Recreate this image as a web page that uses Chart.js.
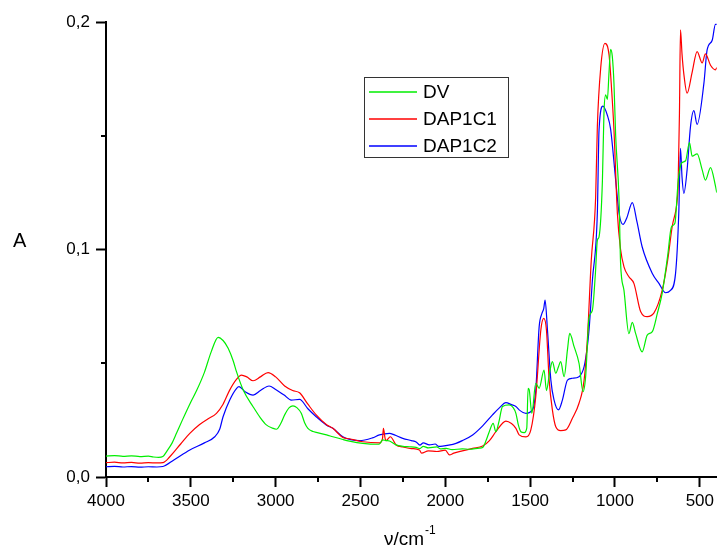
<!DOCTYPE html>
<html>
<head>
<meta charset="utf-8">
<script src="https://cdn.jsdelivr.net/npm/chart.js@4.4.0/dist/chart.umd.min.js"></script>
<style>
    html, body { margin: 0; padding: 0; background: #fff; }
    #wrap { width: 718px; height: 550px; position: relative; }
</style>
</head>
<body>
<div id="wrap"><canvas id="ir-chart"></canvas></div>
<script>
const seriesNames = ['DV', 'DAP1C1', 'DAP1C2'];
const seriesColors = ['#00ee00', '#ff0000', '#0000ff'];

// DV
const dvX = [4000, 3950, 3900, 3850, 3800, 3750, 3720, 3690, 3665, 3640, 3610, 3584, 3550, 3500, 3466, 3420, 3380, 3339, 3310, 3280,
    3250, 3231, 3190, 3133, 3090, 3055, 3020, 2996, 2970, 2947, 2920, 2898, 2875, 2849, 2830, 2810, 2780, 2761, 2700, 2663,
    2604, 2565, 2486, 2400, 2388, 2369, 2350, 2329, 2290, 2250, 2210, 2172, 2150, 2130, 2100, 2050, 2030, 1996, 1960, 1900,
    1859, 1800, 1780, 1760, 1741, 1718, 1702, 1685, 1663, 1624, 1600, 1584, 1570, 1555, 1535, 1520, 1512, 1506, 1490, 1467,
    1447, 1418, 1404, 1385, 1369, 1349, 1333, 1320, 1300, 1280, 1267, 1241, 1212, 1188, 1173, 1153, 1133, 1115, 1104, 1094,
    1074, 1065, 1055, 1045, 1035, 1026, 1016, 1006, 996, 976, 967, 947, 918, 898, 878, 840, 810, 780, 750, 722,
    690, 667, 647, 627, 608, 584, 561, 545, 516, 486, 467, 437, 408, 400];
const dvY = [0.0092, 0.0094, 0.0091, 0.0093, 0.0090, 0.0092, 0.0088, 0.0086, 0.0090, 0.0115, 0.0150, 0.0193, 0.0250, 0.0330, 0.0380, 0.0460, 0.0550, 0.0614, 0.0600, 0.0566,
    0.0510, 0.0463, 0.0380, 0.0309, 0.0260, 0.0229, 0.0215, 0.0210, 0.0235, 0.0273, 0.0305, 0.0313, 0.0305, 0.0280, 0.0240, 0.0214, 0.0200, 0.0196, 0.0185, 0.0177,
    0.0165, 0.0158, 0.0148, 0.0144, 0.0145, 0.0163, 0.0160, 0.0158, 0.0141, 0.0135, 0.0133, 0.0130, 0.0125, 0.0135, 0.0128, 0.0132, 0.0124, 0.0126, 0.0120, 0.0124,
    0.0122, 0.0127, 0.0130, 0.0160, 0.0199, 0.0236, 0.0199, 0.0240, 0.0310, 0.0317, 0.0305, 0.0280, 0.0230, 0.0199, 0.0195, 0.0215, 0.0390, 0.0385, 0.0280, 0.0412,
    0.0390, 0.0470, 0.0380, 0.0460, 0.0507, 0.0456, 0.0485, 0.0507, 0.0441, 0.0560, 0.0631, 0.0573, 0.0500, 0.0375, 0.0441, 0.0700, 0.0734, 0.0900, 0.1040, 0.1056,
    0.1305, 0.1600, 0.1680, 0.1660, 0.1780, 0.1880, 0.1850, 0.1730, 0.1500, 0.1220, 0.0940, 0.0820, 0.0630, 0.0680, 0.0630, 0.0550, 0.0624, 0.0639, 0.0720, 0.0807,
    0.0970, 0.1100, 0.1115, 0.1305, 0.1380, 0.1390, 0.1470, 0.1410, 0.1420, 0.1350, 0.1305, 0.1360, 0.1280, 0.1250];

// DAP1C1
const c1X = [4000, 3950, 3900, 3850, 3800, 3750, 3700, 3665, 3624, 3560, 3506, 3450, 3400, 3349, 3310, 3271, 3230, 3202, 3170, 3133,
    3090, 3045, 3000, 2947, 2900, 2859, 2810, 2761, 2700, 2663, 2604, 2565, 2486, 2388, 2370, 2365, 2355, 2349, 2324, 2290,
    2250, 2200, 2153, 2140, 2100, 2050, 2000, 1976, 1950, 1900, 1839, 1780, 1740, 1702, 1643, 1610, 1584, 1565, 1525, 1496,
    1467, 1437, 1420, 1404, 1388, 1369, 1349, 1320, 1290, 1251, 1212, 1182, 1163, 1140, 1114, 1104, 1084, 1059, 1035, 1016,
    1006, 986, 967, 947, 918, 888, 849, 810, 771, 722, 690, 663, 633, 628, 620, 614, 605, 594, 575, 545,
    516, 486, 467, 437, 408, 400];
const c1Y = [0.0063, 0.0065, 0.0062, 0.0064, 0.0061, 0.0063, 0.0062, 0.0063, 0.0089, 0.0145, 0.0192, 0.0230, 0.0255, 0.0280, 0.0320, 0.0382, 0.0430, 0.0448, 0.0440, 0.0423,
    0.0440, 0.0459, 0.0440, 0.0400, 0.0380, 0.0370, 0.0320, 0.0273, 0.0230, 0.0214, 0.0174, 0.0168, 0.0155, 0.0150, 0.0170, 0.0214, 0.0170, 0.0160, 0.0177, 0.0141,
    0.0132, 0.0125, 0.0119, 0.0105, 0.0115, 0.0112, 0.0118, 0.0097, 0.0105, 0.0115, 0.0126, 0.0136, 0.0160, 0.0199, 0.0246, 0.0235, 0.0214, 0.0185, 0.0176, 0.0207,
    0.0353, 0.0646, 0.0697, 0.0646, 0.0426, 0.0295, 0.0221, 0.0204, 0.0207, 0.0258, 0.0324, 0.0426, 0.0602, 0.0950, 0.1230, 0.1540, 0.1800, 0.1906, 0.1855, 0.1657,
    0.1525, 0.1160, 0.1000, 0.0924, 0.0880, 0.0850, 0.0727, 0.0705, 0.0720, 0.0820, 0.0950, 0.1100, 0.1220, 0.1280, 0.1600, 0.1965, 0.1860, 0.1770, 0.1687, 0.1780,
    0.1870, 0.1820, 0.1860, 0.1810, 0.1790, 0.1800];

// DAP1C2
const c2X = [4000, 3950, 3900, 3850, 3800, 3750, 3700, 3665, 3600, 3506, 3420, 3359, 3330, 3310, 3270, 3230, 3216, 3180, 3133, 3090,
    3039, 3000, 2950, 2908, 2859, 2810, 2761, 2700, 2663, 2604, 2506, 2430, 2388, 2329, 2300, 2251, 2200, 2172, 2150, 2130,
    2094, 2060, 2040, 2016, 1980, 1937, 1900, 1839, 1780, 1722, 1680, 1643, 1610, 1584, 1565, 1525, 1486, 1467, 1447, 1430,
    1420, 1412, 1398, 1378, 1359, 1333, 1310, 1280, 1251, 1212, 1182, 1163, 1153, 1133, 1104, 1094, 1071, 1045, 1026, 996,
    976, 953, 930, 898, 870, 840, 780, 740, 702, 673, 643, 624, 614, 605, 594, 575, 555, 535, 516, 476,
    457, 427, 408, 400];
const c2Y = [0.0045, 0.0047, 0.0044, 0.0046, 0.0043, 0.0045, 0.0044, 0.0046, 0.0075, 0.0119, 0.0150, 0.0177, 0.0210, 0.0265, 0.0340, 0.0390, 0.0397, 0.0375, 0.0360, 0.0380,
    0.0400, 0.0385, 0.0360, 0.0338, 0.0341, 0.0300, 0.0265, 0.0228, 0.0214, 0.0177, 0.0160, 0.0172, 0.0185, 0.0192, 0.0185, 0.0170, 0.0160, 0.0154, 0.0140, 0.0150,
    0.0141, 0.0145, 0.0135, 0.0136, 0.0140, 0.0148, 0.0160, 0.0185, 0.0225, 0.0273, 0.0305, 0.0327, 0.0318, 0.0310, 0.0295, 0.0280, 0.0295, 0.0380, 0.0660, 0.0720,
    0.0740, 0.0778, 0.0646, 0.0426, 0.0338, 0.0295, 0.0338, 0.0426, 0.0434, 0.0441, 0.0485, 0.0573, 0.0646, 0.0866, 0.1160, 0.1525, 0.1630, 0.1590, 0.1530, 0.1305,
    0.1160, 0.1110, 0.1140, 0.1206, 0.1120, 0.1012, 0.0895, 0.0850, 0.0810, 0.0820, 0.0895, 0.1160, 0.1445, 0.1320, 0.1247, 0.1350, 0.1540, 0.1610, 0.1550, 0.1730,
    0.1877, 0.1920, 0.1990, 0.1990];

const xTickValues = [4000, 3500, 3000, 2500, 2000, 1500, 1000, 500];
const yTickValues = [0, 0.1, 0.2];
const yTickLabels = ['0,0', '0,1', '0,2'];
const xMinorTicks = [3750, 3250, 2750, 2250, 1750, 1250, 750];
const yMinorTicks = [0.05, 0.15];

Chart.defaults.font.family = "'Liberation Sans', Arial, sans-serif";
Chart.defaults.color = '#000';

function toPoints(xs, ys) {
    return xs.map((x, i) => ({x: x, y: ys[i]}));
}

// short outward ticks between the labelled ones
const minorTicks = {
    id: 'minorTicks',
    afterDraw(chart) {
        const ctx = chart.ctx;
        const xs = chart.scales.x, ys = chart.scales.y;
        const area = chart.chartArea;
        ctx.save();
        ctx.strokeStyle = '#000';
        ctx.lineWidth = 2;
        ctx.beginPath();
        xMinorTicks.forEach(v => {
            const px = Math.round(xs.getPixelForValue(v));
            ctx.moveTo(px, area.bottom);
            ctx.lineTo(px, area.bottom + 5);
        });
        yMinorTicks.forEach(v => {
            const py = Math.round(ys.getPixelForValue(v));
            ctx.moveTo(area.left - 5, py);
            ctx.lineTo(area.left, py);
        });
        ctx.stroke();
        ctx.restore();
    }
};

// upright "A" and nu/cm^-1 with a raised exponent
const axisTitles = {
    id: 'axisTitles',
    afterDraw(chart) {
        const ctx = chart.ctx;
        ctx.save();
        ctx.fillStyle = '#000';
        ctx.textBaseline = 'alphabetic';
        ctx.font = "20px 'Liberation Sans', Arial, sans-serif";
        ctx.fillText('A', 13, 247);
        ctx.font = "19px 'Liberation Sans', Arial, sans-serif";
        ctx.fillText('ν/cm', 384, 545);
        const w = ctx.measureText('ν/cm').width;
        ctx.font = "12px 'Liberation Sans', Arial, sans-serif";
        ctx.fillText('-1', 384 + w + 1, 534);
        ctx.restore();
    }
};

// boxed legend in the plot, as in the original
const boxLegend = {
    id: 'boxLegend',
    afterDraw(chart) {
        const ctx = chart.ctx;
        ctx.save();
        ctx.strokeStyle = '#333';
        ctx.lineWidth = 1;
        ctx.strokeRect(364.5, 77.5, 144, 80);
        ctx.font = "19px 'Liberation Sans', Arial, sans-serif";
        ctx.textBaseline = 'middle';
        ctx.fillStyle = '#000';
        chart.data.datasets.forEach((ds, i) => {
            const y = 92 + i * 27;
            ctx.strokeStyle = ds.borderColor;
            ctx.lineWidth = 1.3;
            ctx.beginPath();
            ctx.moveTo(369, y);
            ctx.lineTo(417, y);
            ctx.stroke();
            ctx.fillText(ds.label, 423, y + 1);
        });
        ctx.restore();
    }
};

const ctx = document.getElementById('ir-chart');
const allX = [dvX, c1X, c2X];
const allY = [dvY, c1Y, c2Y];

const tickGrid = {
    display: true,
    drawOnChartArea: false,
    drawTicks: true,
    tickLength: 10,
    tickWidth: 2,
    tickColor: '#000'
};

const chart = new Chart(ctx, {
    type: 'line',
    data: {
        datasets: seriesNames.map((name, i) => ({
            label: name,
            data: toPoints(allX[i], allY[i]),
            borderColor: seriesColors[i],
            borderWidth: 1.2,
            pointRadius: 0,
            fill: false,
            cubicInterpolationMode: 'monotone'
        }))
    },
    options: {
        responsive: true,
        maintainAspectRatio: false,
        animation: false,
        layout: {
            padding: {left: 0, right: 0, top: 22, bottom: 0}
        },
        plugins: {
            legend: {display: false},
            tooltip: {enabled: false}
        },
        scales: {
            x: {
                type: 'linear',
                reverse: true,
                min: 400,
                max: 4000,
                afterBuildTicks: (s) => { s.ticks = xTickValues.map(v => ({value: v})); },
                afterFit: (s) => { s.height = 73; },
                ticks: {
                    padding: 4,
                    maxRotation: 0,
                    autoSkip: false,
                    font: {size: 17},
                    callback: (v) => String(v)
                },
                grid: tickGrid,
                border: {display: true, color: '#000', width: 2}
            },
            y: {
                min: 0,
                max: 0.2,
                afterBuildTicks: (s) => { s.ticks = yTickValues.map(v => ({value: v})); },
                afterFit: (s) => { s.width = 106; },
                ticks: {
                    padding: 6,
                    autoSkip: false,
                    font: {size: 17},
                    callback: (v, i) => yTickLabels[i]
                },
                grid: tickGrid,
                border: {display: true, color: '#000', width: 2}
            }
        }
    },
    plugins: [minorTicks, axisTitles, boxLegend]
});
</script>
</body>
</html>
